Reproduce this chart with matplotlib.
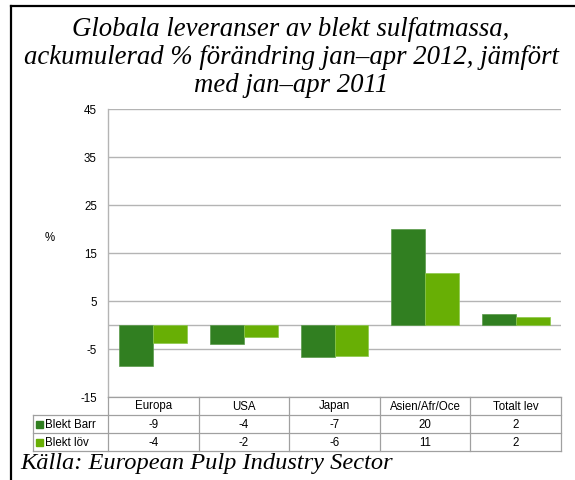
import matplotlib.pyplot as plt
from matplotlib.lines import Line2D
import numpy as np

categories = ["Europa", "USA", "Japan", "Asien/Afr/Oce", "Totalt lev"]
series_names = ["Blekt Barr", "Blekt löv"]
barr = [-8.5, -4.0, -6.6, 19.9, 2.3]
lov = [-3.8, -2.4, -6.4, 10.9, 1.7]
barr_labels = ["-9", "-4", "-7", "20", "2"]
lov_labels = ["-4", "-2", "-6", "11", "2"]
y_ticks = [-15, -5, 5, 15, 25, 35, 45]

title_lines = [
    "Globala leveranser av blekt sulfatmassa,",
    "ackumulerad % förändring jan–apr 2012, jämfört",
    "med jan–apr 2011",
]
source = "Källa: European Pulp Industry Sector"

dark = "#317F21"
light = "#68AF05"
grid_col = "#b4b4b4"
small = 8.3

W, H = 575, 480
fig = plt.figure(figsize=(W / 100, H / 100), dpi=100)


def fx(px):
    return px / W


def fy(py):
    return 1 - py / H


# outer frame (left and top only visible)
fig.add_artist(Line2D([fx(11), fx(11)], [fy(6), fy(490)], color="black", lw=1.6))
fig.add_artist(Line2D([fx(11), fx(580)], [fy(6), fy(6)], color="black", lw=1.6))

left_px, right_px, top_px, bot_px = 108, 561, 109, 397
ax = fig.add_axes([fx(left_px), fy(bot_px), (right_px - left_px) / W, (bot_px - top_px) / H])

x = np.arange(len(categories))
bw = 0.375
ax.bar(x - bw / 2, barr, bw, color=dark, edgecolor="#5a9a4a", linewidth=0.5, zorder=3)
ax.bar(x + bw / 2, lov, bw, color=light, edgecolor="#8cc84a", linewidth=0.5, zorder=3)

ax.set_xlim(-0.5, len(categories) - 0.5)
ax.set_ylim(-15, 45)
ax.set_yticks(y_ticks)
ax.set_yticklabels([str(t) for t in y_ticks], fontsize=small, family="Liberation Sans")
ax.tick_params(axis="y", length=0, pad=8)
ax.set_xticks([])
for t in y_ticks + [0]:
    ax.axhline(t, color=grid_col, lw=1.0, zorder=1)
for s in ["top", "right", "bottom"]:
    ax.spines[s].set_visible(False)
ax.spines["left"].set_color(grid_col)
ax.spines["left"].set_linewidth(1.0)

fig.text(fx(50), fy(238), "%", fontsize=small, family="Liberation Sans", ha="center", va="center")

# data table below the plot
rows_y = [397, 415, 433, 451]
col_x = [left_px + i * (right_px - left_px) / len(categories) for i in range(len(categories) + 1)]
leg_x = 33
tcol = "#a0a0a0"
for yy in rows_y:
    x0 = left_px if yy == 397 else leg_x
    fig.add_artist(Line2D([fx(x0), fx(right_px)], [fy(yy), fy(yy)], color=tcol, lw=0.9))
for xx in col_x:
    fig.add_artist(Line2D([fx(xx), fx(xx)], [fy(397), fy(451)], color=tcol, lw=0.9))
fig.add_artist(Line2D([fx(leg_x), fx(leg_x)], [fy(415), fy(451)], color=tcol, lw=0.9))

for i, cat in enumerate(categories):
    cx = (col_x[i] + col_x[i + 1]) / 2
    fig.text(fx(cx), fy(406.5), cat, fontsize=small, family="Liberation Sans", ha="center", va="center")
    fig.text(fx(cx), fy(424.5), barr_labels[i], fontsize=small, family="Liberation Sans", ha="center", va="center")
    fig.text(fx(cx), fy(442.5), lov_labels[i], fontsize=small, family="Liberation Sans", ha="center", va="center")

for name, col, yc in [(series_names[0], dark, 424.5), (series_names[1], light, 442.5)]:
    fig.add_artist(plt.Rectangle((fx(36), fy(yc + 3.5)), 7 / W, 7 / H, color=col))
    fig.text(fx(45), fy(yc), name, fontsize=small, family="Liberation Sans", ha="left", va="center")

for line, ty in zip(title_lines, [30, 58, 86]):
    fig.text(fx(291), fy(ty), line, fontsize=19.3, family="Liberation Serif", style="italic",
             ha="center", va="center")
fig.text(fx(20), fy(463), source, fontsize=17.6, family="Liberation Serif", style="italic",
         ha="left", va="center")

fig.savefig("out.png", dpi=100)
